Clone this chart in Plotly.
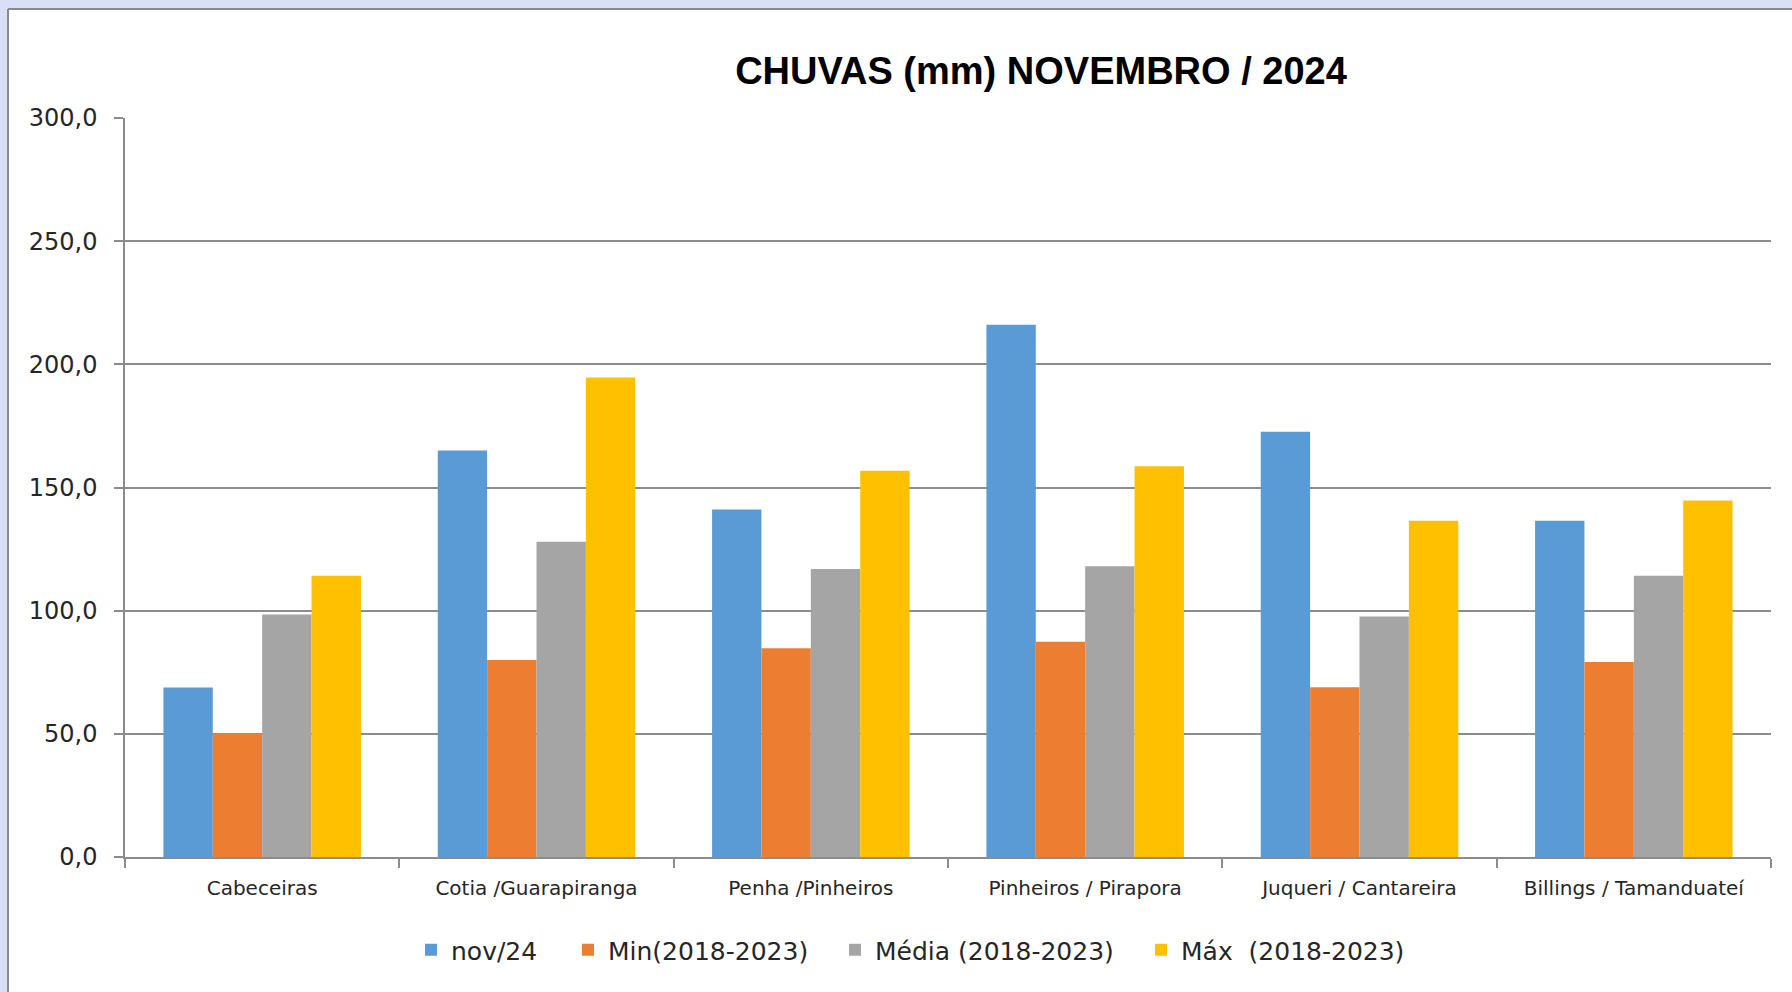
import plotly.graph_objects as go

categories = ["Cabeceiras", "Cotia /Guarapiranga", "Penha /Pinheiros",
              "Pinheiros / Pirapora", "Juqueri / Cantareira", "Billings / Tamanduateí"]
nov24 = [68.8, 165.0, 141.1, 216.1, 172.6, 136.5]
min_1823 = [50.2, 80.0, 84.7, 87.4, 68.9, 79.2]
media_1823 = [98.4, 128.0, 116.9, 118.0, 97.6, 114.2]
max_1823 = [114.2, 194.7, 156.8, 158.6, 136.5, 144.7]
series_names = ["nov/24", "Min(2018-2023)", "Média (2018-2023)", "Máx  (2018-2023)"]
series_values = [nov24, min_1823, media_1823, max_1823]
colors = ["#5B9BD5", "#ED7D31", "#A5A5A5", "#FFC000"]
y_ticks = [0, 50, 100, 150, 200, 250, 300]

W, H = 1792, 992
L, R, T, B = 125, 1771, 118, 857
legend_text_x = [451, 608, 875, 1181]
legend_keys = ["legend", "legend2", "legend3", "legend4"]

fig = go.Figure()
for name, vals, col, lk in zip(series_names, series_values, colors, legend_keys):
    fig.add_trace(go.Bar(x=categories, y=vals, name=name, marker_color=col,
                         marker_line_width=0, legend=lk))

def px_x(p):
    return (p - L) / (R - L)

def px_y(p):
    return (B - p) / (B - T)

lav = "#D8E0F8"
border = "#8A8A8A"
shapes = [
    dict(type="rect", xref="paper", yref="paper", x0=px_x(0), x1=px_x(W), y0=px_y(0), y1=px_y(9),
         fillcolor=lav, line_width=0, layer="below"),
    dict(type="rect", xref="paper", yref="paper", x0=px_x(0), x1=px_x(8), y0=px_y(0), y1=px_y(H),
         fillcolor=lav, line_width=0, layer="below"),
    dict(type="line", xref="paper", yref="paper", x0=px_x(8), x1=px_x(W), y0=px_y(9), y1=px_y(9),
         line=dict(color=border, width=2)),
    dict(type="line", xref="paper", yref="paper", x0=px_x(8), x1=px_x(8), y0=px_y(9), y1=px_y(H),
         line=dict(color=border, width=2)),
]

legend_font = dict(family="DejaVu Sans", size=25, color="#262626")
legends = {}
for lk, tx in zip(legend_keys, legend_text_x):
    legends[lk] = dict(orientation="h", x=(tx - 40) / W, xref="container", xanchor="left",
                       y=1 - 950 / H, yref="container", yanchor="middle",
                       font=legend_font, bgcolor="rgba(0,0,0,0)", borderwidth=0)

fig.update_layout(
    width=W, height=H,
    margin=dict(l=L, r=W - R, t=T, b=H - B, autoexpand=False),
    paper_bgcolor="white", plot_bgcolor="white",
    separators=",.",
    barmode="group", bargap=0.28, bargroupgap=0,
    title=dict(text="<b>CHUVAS (mm) NOVEMBRO / 2024</b>", x=1041 / W, xref="container", xanchor="center",
               y=1 - 71 / H, yref="container", yanchor="middle",
               font=dict(family="Liberation Sans Narrow, Arial Narrow, Liberation Sans", size=38, color="#000000")),
    font=dict(family="DejaVu Sans", color="#262626"),
    showlegend=True,
    shapes=shapes,
    **legends,
)
fig.update_xaxes(type="category", tickson="boundaries", ticks="outside", ticklen=9,
                 tickcolor="#8C8C8C", tickwidth=1.5, ticklabelstandoff=12,
                 showline=True, linecolor="#8C8C8C", linewidth=1.5,
                 tickfont=dict(family="DejaVu Sans", size=20, color="#262626"),
                 showgrid=False)
fig.update_yaxes(range=[0, 300], tickvals=y_ticks, tickformat=".1f", ticks="outside", ticklen=9,
                 tickcolor="#8C8C8C", tickwidth=1.5, ticklabelstandoff=12,
                 showline=True, linecolor="#8C8C8C", linewidth=1.5,
                 showgrid=True, gridcolor="#8C8C8C", gridwidth=1.5, zeroline=False,
                 tickfont=dict(family="DejaVu Sans", size=24, color="#262626"))

fig.write_html("out.html", config={"displayModeBar": False},
               post_script="document.body.style.margin='0';")
